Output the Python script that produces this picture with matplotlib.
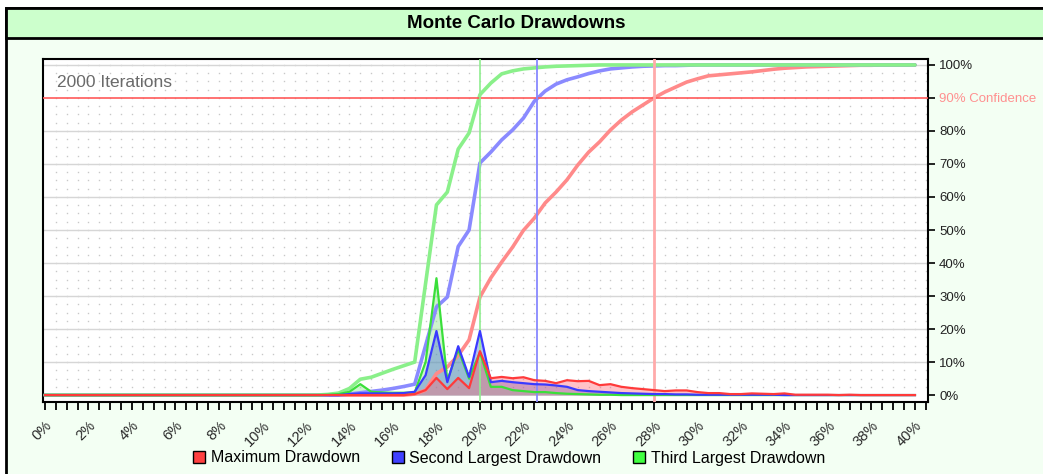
import numpy as np
import matplotlib.pyplot as plt
from matplotlib.patches import Rectangle, Patch

plt.rcParams['font.family'] = ['Liberation Sans', 'DejaVu Sans']

W, H = 1043, 474

# drawdown (%) em passos de 0.5
dd = np.arange(0, 40.5, 0.5)

# frequencia (%) de cada drawdown
freq_max = [0.0]*34 + [0.3, 1.5, 5.2, 1.8, 5.2, 2.1, 13.3,
                       5.1, 5.5, 5.1, 5.4, 4.5, 4.3, 3.6, 4.5, 4.2, 4.3,
                       3.0, 3.3, 2.5, 2.1, 1.8, 1.5, 1.2, 1.4, 1.4, 0.9,
                       0.6, 0.6, 0.3, 0.3, 0.5, 0.4, 0.3, 0.5, 0.1,
                       0.1, 0.1, 0.1, 0.0, 0.1, 0.0, 0.0, 0.0, 0.0, 0.0, 0.0]
freq_2nd = [0.0]*28 + [0.3, 0.5, 0.5, 0.5, 0.5, 0.6, 1.0, 6.0, 19.4, 3.9, 14.8, 5.5, 19.4,
                       3.9, 4.3, 3.9, 3.6, 3.3, 3.2, 2.9, 2.5, 1.5, 1.2,
                       1.0, 0.8, 0.6, 0.5, 0.4, 0.3, 0.3, 0.2, 0.2, 0.1,
                       0.1, 0.1, 0.1, 0.1, 0.1, 0.1, 0.1] + [0.0]*13
freq_3rd = [0.0]*26 + [0.1, 0.3, 1.0, 3.3, 1.0, 0.8, 0.7, 0.7, 0.8, 10.0, 35.4, 4.5, 13.8, 5.0, 13.0,
                       2.5, 2.5, 1.5, 1.2, 0.9, 0.9, 0.6, 0.4, 0.3, 0.2,
                       0.1, 0.1] + [0.0]*28

# acumulado (%)
cum_max = [0.0]*34 + [0.3, 1.5, 6.5, 8.5, 12.0, 16.7, 29.7,
                      35.5, 40.3, 44.8, 49.9, 53.6, 58.2, 61.5, 65.2, 69.7, 73.6,
                      76.7, 80.3, 83.3, 85.8, 87.9, 90.0, 91.8, 93.3, 94.8, 95.8,
                      96.7, 97.0, 97.3, 97.6, 97.9, 98.3, 98.7, 99.0, 99.2, 99.4,
                      99.5, 99.6, 99.7, 99.8, 99.9, 99.9, 100, 100, 100, 100]
cum_2nd = [0.0]*28 + [0.3, 0.7, 1.1, 1.5, 2.0, 2.6, 3.3, 15.0, 26.7, 29.7, 45.0, 50.0, 70.3,
                      73.6, 77.3, 80.3, 83.9, 89.0, 92.1, 94.2, 95.5, 96.4, 97.4,
                      98.2, 98.8, 99.1, 99.4, 99.6, 99.7, 99.8, 99.8, 99.9, 100] + [100.0]*20
cum_3rd = [0.0]*26 + [0.2, 0.6, 2.0, 4.8, 5.4, 6.6, 7.8, 8.9, 10.0, 33.8, 57.6, 61.5, 74.5, 79.4, 91.0,
                      94.5, 97.3, 98.2, 98.8, 99.1, 99.4, 99.6, 99.7, 99.8, 99.9] + [100.0]*30

# drawdown com 90% de confianca
conf_dd = [28.0, 22.6, 20.0]
conf_level = 90

names = ['Maximum Drawdown', 'Second Largest Drawdown', 'Third Largest Drawdown']
xticks = np.arange(0, 41, 2)
yticks = [0, 10, 20, 30, 40, 50, 60, 70, 80, 90, 100]

for s in (freq_max, freq_2nd, freq_3rd, cum_max, cum_2nd, cum_3rd):
    assert len(s) == len(dd), len(s)

fig = plt.figure(figsize=(W/100, H/100), dpi=100)
fig.patch.set_facecolor('white')

# moldura e barra do titulo
fig.patches.append(Rectangle((6/W, -0.05), 1.2, 1-8/H+0.05, transform=fig.transFigure,
                             facecolor='#f3fff3', edgecolor='black', lw=2, zorder=-10))
fig.patches.append(Rectangle((6/W, 1-38/H), 1.2, 30/H, transform=fig.transFigure,
                             facecolor='#ccffcc', edgecolor='black', lw=2, zorder=-9))
fig.text(516/W, 1-23/H, 'Monte Carlo Drawdowns', ha='center', va='center',
         fontsize=13.5, fontweight='bold', color='black')

ax = fig.add_axes([43/W, 1-402/H, (928-43)/W, (402-59)/H])
ax.set_zorder(5)
ax.set_facecolor('white')
ax.set_xlim(-0.09, 40.6)
ax.set_ylim(-2.1, 101.8)

# grade pontilhada e linhas a cada 10%
gx, gy = np.meshgrid(np.arange(0.5, 40.6, 0.5), np.arange(2.5, 101, 2.5))
ax.plot(gx.ravel(), gy.ravel(), ls='none', marker='s', ms=1.0, mec='none',
        color='#c8c8c8', zorder=0)
for v in yticks[1:]:
    if v != conf_level:
        ax.axhline(v, color='#d6d6d6', lw=1, zorder=0.5)

# densidades
cols_line = ['#ff3a3a', '#3a3aff', '#3adf3a']
cols_fill = ['#ff6070', '#5a78d8', '#70e070']
for f, cf, a in zip([freq_3rd, freq_2nd, freq_max], cols_fill[::-1], [0.35, 0.45, 0.38]):
    ax.fill_between(dd, 0, f, color=cf, alpha=a, lw=0, zorder=2)
for f, cl in zip([freq_3rd, freq_2nd, freq_max], cols_line[::-1]):
    ax.plot(dd, f, color=cl, lw=1.6, zorder=4)

# acumulados
for c, col in zip([cum_max, cum_2nd, cum_3rd], ['#ff8a8a', '#8a8aff', '#8af08a']):
    ax.plot(dd, c, color=col, lw=2.6, zorder=3, solid_capstyle='round')

# linhas de confianca
ax.axhline(conf_level, color='#ff5a5a', lw=1.2, zorder=3.5)
ax.axvline(conf_dd[0], color='#ffaaaa', lw=2, zorder=3.5)
ax.axvline(conf_dd[1], color='#8888ff', lw=1.3, zorder=3.5)
ax.axvline(conf_dd[2], color='#90ee90', lw=1.2, zorder=3.5)

ax.text(0.55, 94.6, '2000 Iterations', fontsize=12.5, color='#6a6a6a', va='center', ha='left')

# eixos
for sp in ax.spines.values():
    sp.set_color('black')
    sp.set_linewidth(1.5)
ax.set_xticks(xticks)
ax.set_xticklabels(['%d%%' % v for v in xticks], rotation=45, ha='right', va='top',
                   rotation_mode='anchor', fontsize=10.5, color='#2a2a2a')
ax.set_xticks(np.arange(0, 40.6, 0.5), minor=True)
ax.tick_params(axis='x', which='both', length=6, width=1.3, color='black', pad=6)
ax.yaxis.tick_right()
ax.set_yticks(yticks)
ax.set_yticklabels(['90% Confidence' if v == conf_level else '%d%%' % v for v in yticks],
                   fontsize=9.5, color='#222222')
ax.tick_params(axis='y', length=5, width=1.2, pad=3)
ax.get_yticklabels()[yticks.index(conf_level)].set_color('#ff9090')

handles = [Patch(facecolor=c, edgecolor='black', lw=1) for c in ['#ff4040', '#4040ff', '#40ff40']]
fig.legend(handles, names, loc='center', bbox_to_anchor=(509/W, 1-458/H), ncol=3,
           frameon=False, fontsize=11.5, handlelength=0.75, handleheight=0.75,
           handletextpad=0.35, columnspacing=2.0)

fig.savefig('out.png', dpi=100, facecolor=fig.get_facecolor())
